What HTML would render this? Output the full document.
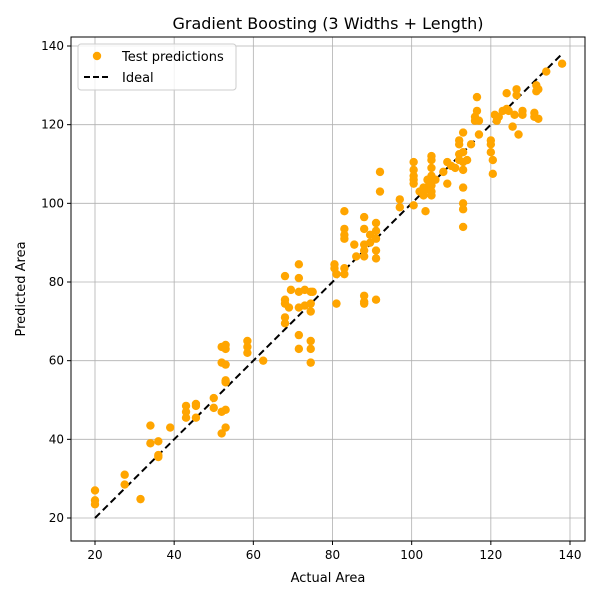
<!DOCTYPE html>
<html><head><meta charset="utf-8"><style>
body{margin:0;background:#fff;font-family:"Liberation Sans","DejaVu Sans",sans-serif}
svg text{font-family:"DejaVu Sans","Liberation Sans",sans-serif}
</style></head><body>
<svg id="chart" width="600" height="600">
<rect width="600" height="600" fill="#fff"/>
<g id="grid"></g>
<g id="ideal"></g>
<g id="pts"></g>
<rect x="71" y="37" width="514" height="504" fill="none" stroke="#000" stroke-width="1"/>
<g id="ticks"></g>
<text x="328" y="29" text-anchor="middle" font-size="16">Gradient Boosting (3 Widths + Length)</text>
<text x="328" y="582" text-anchor="middle" font-size="13">Actual Area</text>
<text x="25" y="289" text-anchor="middle" font-size="13" transform="rotate(-90 25 289)">Predicted Area</text>
<g>
<rect x="78" y="44" width="158" height="46" rx="3" fill="#fff" fill-opacity="0.8" stroke="#ccc"/>
<circle cx="97" cy="56" r="4.2" fill="#ffa500"/>
<text x="122" y="61" font-size="13">Test predictions</text>
<line x1="84" y1="77" x2="110" y2="77" stroke="#000" stroke-width="2" stroke-dasharray="6,3"/>
<text x="122" y="82" font-size="13">Ideal</text>
</g>
</svg>
<script>
const xTicks=[20,40,60,80,100,120,140];
const yTicks=[20,40,60,80,100,120,140];
const idealRange=[20,138];
const actual=[20,20,20,27.5,27.5,31.5,34,34,36,36,36,39,43,43,43,45.5,45.5,45.5,50,50,52,52,52,52,53,53,53,53,53,53,53,58.5,58.5,58.5,62.5,
68,68,68,68,68,69,69.5,71.5,71.5,71.5,71.5,71.5,71.5,73,73,74.5,74.5,74.5,74.5,74.5,74.5,75,
80.5,80.5,81,81,83,83,83,83,83,83,85.5,86,88,88,88,88,88,88,88,88,89.5,89.5,91,91,91,91,91,91,92,92,97,97,100.5,100.5,100.5,100.5,100.5,100.5,102,103,103,103.5,104,104,104.5,105,105,105,105,105,105,105,106,108,109,109,110,111,112,112,112,112,113,113,113,113,113,113,113,113,114,115,116,116,116.5,116.5,117,117,120,120,120,120.5,120.5,121,121.5,122,123,124,124,124.5,125.5,126,126.5,126.5,127,128,128,131,131,131.5,131.5,132,132,134,138];
const predicted=[27,24.5,23.5,31,28.5,24.8,43.5,39,39.5,36,35.5,43,48.5,47,45.5,49,48.5,45.5,50.5,48,63.5,59.5,47,41.5,64,63,59,55,54.5,47.5,43,65,63.5,62,60,
81.5,75.5,74.5,71,69.5,73.5,78,84.5,81,77.5,73.5,66.5,63,78,74,77.5,74.5,72.5,65,63,59.5,77.5,
84.5,83.5,82,74.5,98,93.5,92,91,83.5,82,89.5,86.5,96.5,93.5,89.5,88,86.5,76.5,75,74.5,92,90,95,93,91,88,86,75.5,108,103,101,99,110.5,108.5,107,106,105,99.5,103,104,102,98,106,103.5,105,112,111,109,107,104.5,103,102,106,108,110.5,105,109.5,109,116,115,112.5,111,118,113,110.5,108.5,104,100,98.5,94,111,115,122,121,127,123.5,121,117.5,116,115,113,111,107.5,122.5,121,122,123.5,128,124,123.5,119.5,122.5,129,127.5,117.5,123.5,122.5,123,122,130,128.5,121.5,129,133.5,135.5];
const NS='http://www.w3.org/2000/svg';
const X0=71,X1=585,Y0=37,Y1=541;
function sx(v){return 95+(v-20)*(570-95)/120;}
function sy(v){return 518-(v-20)*(518-46)/120;}
function mk(t,a,parent){const e=document.createElementNS(NS,t);for(const k in a)e.setAttribute(k,a[k]);parent.appendChild(e);return e;}
const grid=document.getElementById('grid'),ticks=document.getElementById('ticks');
xTicks.forEach(v=>{const x=sx(v);
const g=mk('line',{x1:x,x2:x,y1:Y0,y2:Y1,stroke:'#b0b0b0','stroke-width':0.8},grid);


const t=mk('line',{x1:x,x2:x,y1:Y1,y2:Y1+4,stroke:'#000'},ticks);


const l=mk('text',{x:x,y:Y1+18,'text-anchor':'middle','font-size':12},ticks);l.textContent=v;

});
yTicks.forEach(v=>{const y=sy(v);
const g=mk('line',{x1:X0,x2:X1,y1:y,y2:y,stroke:'#b0b0b0','stroke-width':0.8},grid);


const t=mk('line',{x1:X0-4,x2:X0,y1:y,y2:y,stroke:'#000'},ticks);


const l=mk('text',{x:X0-7,y:y+4,'text-anchor':'end','font-size':12},ticks);l.textContent=v;

});
const pts=document.getElementById('pts');
actual.forEach((a,i)=>{const c=mk('circle',{cx:sx(a),cy:sy(predicted[i]),r:4.2,fill:'#ffa500'},pts);

});
const ln=mk('line',{x1:sx(idealRange[0]),y1:sy(idealRange[0]),x2:sx(idealRange[1]),y2:sy(idealRange[1]),stroke:'#000','stroke-width':2,'stroke-dasharray':'7,4'},document.getElementById('ideal'));


</script>
</body></html>
